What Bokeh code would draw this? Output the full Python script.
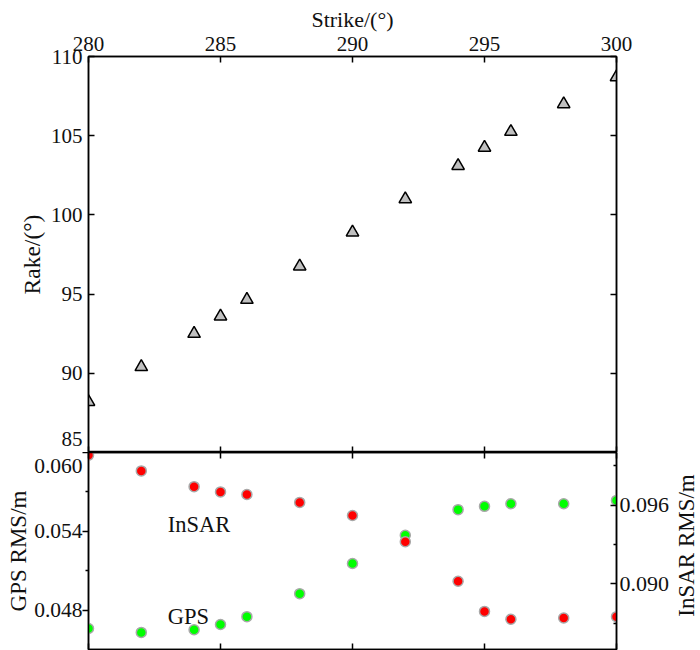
from bokeh.plotting import figure
from bokeh.models import (Range1d, LinearAxis, FixedTicker, NumeralTickFormatter,
                          CustomJSTickFormatter, Label)
from bokeh.layouts import column, row
from bokeh.embed import file_html
from bokeh.resources import INLINE

# ---------------- data ----------------
strike = [280, 282, 284, 285, 286, 288, 290, 292, 294, 295, 296, 298, 300]
rake = [88.2, 90.4, 92.5, 93.6, 94.65, 96.75, 98.9, 101.0, 103.1, 104.25, 105.25, 107.0, 108.7]
gps_rms = [0.0466, 0.0463, 0.0465, 0.0469, 0.0475, 0.04925, 0.05155, 0.0537,
           0.05565, 0.0559, 0.0561, 0.0561, 0.05635]
insar_rms = [0.0998, 0.0986, 0.0974, 0.0970, 0.0968, 0.0962, 0.0952, 0.0932,
             0.0902, 0.0879, 0.0873, 0.0874, 0.0875]

strike_ticks = [280, 285, 290, 295, 300]
rake_ticks = [85, 90, 95, 100, 105, 110]
gps_ticks = [0.048, 0.054, 0.060]
gps_minor = [0.051, 0.057]
insar_ticks = [0.090, 0.096]
insar_minor = [0.087, 0.093, 0.099]

# ---------------- layout / style ----------------
FONT = '"Liberation Serif"'
LFONT = "Liberation Serif"
INK = "#111111"
W_MAIN = 672          # width of the two stacked panels
W_SIDE = 28           # strip on the right holding the InSAR axis title
H_TOTAL = 650
ML, MR = 88, 56
TOP = 56
F1, F2, BOT = 396, 197, 1

RAKE_LO, RAKE_HI = 85, 110
GPS_LO, GPS_HI = 0.045, 0.060
INS_LO, INS_HI = 0.085, 0.100

# tick labels at the panel joint are lifted / lowered a few pixels (as in the original)
LIFT_85_PX = 13.7
DROP_060_PX = 13.0
rake_label_pos = {t: t for t in rake_ticks}
rake_label_pos[85] = RAKE_LO + LIFT_85_PX * (RAKE_HI - RAKE_LO) / F1
gps_label_pos = {t: t for t in gps_ticks}
gps_label_pos[0.060] = GPS_HI - DROP_060_PX * (GPS_HI - GPS_LO) / F2


def base_axis(ax, font_size="21px", label_size="22px"):
    ax.axis_line_color = "black"
    ax.axis_line_width = 1.5
    ax.major_tick_line_color = "black"
    ax.major_tick_line_width = 1.5
    ax.minor_tick_line_color = "black"
    ax.minor_tick_line_width = 1.5
    ax.major_label_text_font = FONT
    ax.major_label_text_font_size = font_size
    ax.major_label_text_color = INK
    ax.axis_label_text_font = FONT
    ax.axis_label_text_font_size = label_size
    ax.axis_label_text_font_style = "normal"
    ax.axis_label_text_color = INK


def ticks_only(ax, tin=6, tout=0):
    base_axis(ax)
    ax.major_tick_in = tin
    ax.major_tick_out = tout
    ax.minor_tick_in = tin // 2
    ax.minor_tick_out = tout // 2
    ax.major_label_text_font_size = "0px"
    ax.major_label_standoff = 0
    ax.formatter = CustomJSTickFormatter(code="return ''")
    ax.axis_label = None


def labels_only(ax, font_size, standoff, label, label_standoff, label_size):
    base_axis(ax, font_size, label_size)
    ax.axis_line_color = None
    ax.major_tick_line_color = None
    ax.minor_tick_line_color = None
    ax.major_tick_in = 0
    ax.major_tick_out = 0
    ax.minor_tick_in = 0
    ax.minor_tick_out = 0
    ax.major_label_standoff = standoff
    ax.axis_label = label
    ax.axis_label_standoff = label_standoff


def style_fig(p):
    p.xgrid.visible = False
    p.ygrid.visible = False
    p.outline_line_color = "black"
    p.outline_line_width = 1.5
    p.background_fill_color = "white"
    p.border_fill_color = "white"


# ---------------- top panel ----------------
p1 = figure(width=W_MAIN, height=TOP + F1, title=None,
            x_range=Range1d(280, 300), y_range=Range1d(RAKE_LO, RAKE_HI),
            x_axis_location="above", output_backend="svg", toolbar_location=None,
            min_border_left=ML, min_border_right=MR, min_border_top=TOP, min_border_bottom=0)
style_fig(p1)

top_ax = p1.xaxis[0]
top_ax.ticker = FixedTicker(ticks=strike_ticks)
base_axis(top_ax, "21px", "22px")
top_ax.major_tick_in = 6
top_ax.major_tick_out = 0
top_ax.major_label_standoff = 6
top_ax.axis_label = "Strike/(°)"
top_ax.axis_label_standoff = 2

left1_ticks = p1.yaxis[0]
left1_ticks.ticker = FixedTicker(ticks=rake_ticks)
ticks_only(left1_ticks, tin=6, tout=0)

left1_lab = LinearAxis(ticker=FixedTicker(ticks=[rake_label_pos[t] for t in rake_ticks]),
                       major_label_overrides={rake_label_pos[t]: str(t) for t in rake_ticks})
labels_only(left1_lab, "21px", 6, "Rake/(°)", 3, "23.5px")
p1.add_layout(left1_lab, "left")

right1 = LinearAxis(ticker=FixedTicker(ticks=rake_ticks))
ticks_only(right1, tin=6, tout=0)
p1.add_layout(right1, "right")

below1 = LinearAxis(ticker=FixedTicker(ticks=strike_ticks))
ticks_only(below1, tin=6, tout=0)
p1.add_layout(below1, "below")

p1.scatter(strike, rake, marker="triangle", size=12.5, fill_color="#c0c0c0",
           line_color="black", line_width=1.5)

# ---------------- bottom panel ----------------
p2 = figure(width=W_MAIN, height=F2 + BOT, title=None, x_range=p1.x_range,
            y_range=Range1d(GPS_LO, GPS_HI),
            output_backend="svg", toolbar_location=None,
            min_border_left=ML, min_border_right=MR, min_border_top=0, min_border_bottom=BOT)
style_fig(p2)
p2.extra_y_ranges = {"insar": Range1d(INS_LO, INS_HI)}

below2 = p2.xaxis[0]
below2.ticker = FixedTicker(ticks=strike_ticks)
ticks_only(below2, tin=6, tout=0)

above2 = LinearAxis(ticker=FixedTicker(ticks=strike_ticks))
ticks_only(above2, tin=6, tout=0)
p2.add_layout(above2, "above")

left2_ticks = p2.yaxis[0]
left2_ticks.ticker = FixedTicker(ticks=gps_ticks, minor_ticks=gps_minor)
ticks_only(left2_ticks, tin=0, tout=6)

left2_lab = LinearAxis(ticker=FixedTicker(ticks=[gps_label_pos[t] for t in gps_ticks]),
                       major_label_overrides={gps_label_pos[t]: f"{t:.3f}" for t in gps_ticks})
labels_only(left2_lab, "21.5px", 0, "GPS RMS/m", 0, "23px")
p2.add_layout(left2_lab, "left")

right2 = LinearAxis(y_range_name="insar",
                    ticker=FixedTicker(ticks=insar_ticks, minor_ticks=insar_minor),
                    formatter=NumeralTickFormatter(format="0.000"))
base_axis(right2, "22px", "22px")
right2.major_tick_in = 6
right2.major_tick_out = 0
right2.minor_tick_in = 3
right2.minor_tick_out = 0
right2.major_label_standoff = 3
right2.axis_label = None
p2.add_layout(right2, "right")

p2.scatter(strike, gps_rms, marker="circle", size=10, fill_color="#00ff00",
           line_color="#a8a8a8", line_width=1.5)
p2.scatter(strike, insar_rms, marker="circle", size=10, fill_color="#ff0000",
           line_color="#a8a8a8", line_width=1.5, y_range_name="insar")

p2.add_layout(Label(x=283, y=0.0545, text="InSAR", text_align="left",
                    text_baseline="alphabetic", text_font=LFONT,
                    text_font_size="22.5px", text_color=INK))
p2.add_layout(Label(x=283, y=0.0475, text="GPS", text_align="left",
                    text_baseline="alphabetic", text_font=LFONT,
                    text_font_size="22.5px", text_color=INK))

# ---------------- right strip: InSAR axis title (reads bottom-to-top) ----------------
p3 = figure(width=W_SIDE, height=H_TOTAL, title=None,
            x_range=Range1d(0, W_SIDE), y_range=Range1d(0, H_TOTAL),
            x_axis_type=None, y_axis_type=None, output_backend="svg",
            toolbar_location=None, min_border=0)
p3.outline_line_color = None
p3.xgrid.visible = False
p3.ygrid.visible = False
p3.border_fill_color = "white"
INSAR_TITLE_X = 13.5                       # centre of the strip
INSAR_TITLE_Y = TOP + F1 + F2 / 2 - 5.5    # about the middle of the lower panel
p3.add_layout(Label(x=INSAR_TITLE_X, y=H_TOTAL - INSAR_TITLE_Y, text="InSAR RMS/m",
                    angle=90, angle_units="deg", text_align="center",
                    text_baseline="middle", text_font=LFONT,
                    text_font_size="23px", text_color=INK))

layout = row(column(p1, p2), p3)
open("out.html", "w").write(file_html(layout, INLINE))
